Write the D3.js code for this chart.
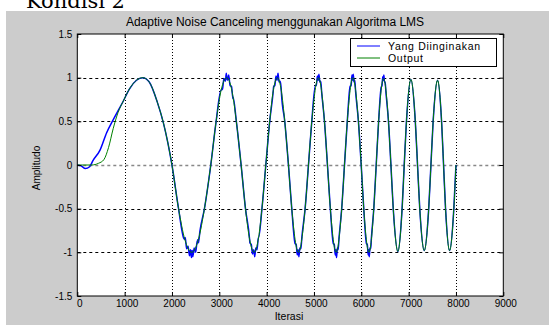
<!DOCTYPE html>
<html>
<head>
<meta charset="utf-8">
<script src="https://cdn.jsdelivr.net/npm/d3@7"></script>
<style>
  body { margin: 0; background: #fff; }
  text { font-family: "Liberation Sans", Arial, sans-serif; fill: #000; }
</style>
</head>
<body>
<svg id="chart" width="549" height="325"></svg>
<script>
// values: [iterasi, amplitudo]
const outputStart = [[0, 0], [300, 0], [450, 0.02], [560, 0.06], [660, 0.2], [760, 0.42], [860, 0.6]]
const desiredStart = [[0, 0], [80, -0.01], [170, -0.04], [260, -0.02], [330, 0.05], [480, 0.17], [620, 0.37], [760, 0.52], [880, 0.64]]

// both signals follow this wave once the filter has converged
const wavePts = [
  [970, 0.73], [1100, 0.87], [1250, 0.97], [1385, 1.0], [1520, 0.95], [1690, 0.72], [1820, 0.48], [2000, 0],
  [2139, -0.5], [2270, -0.85], [2418, -1.0], [2560, -0.85], [2686, -0.5], [2820, 0],
  [2933, 0.5], [3040, 0.86], [3158, 1.0], [3290, 0.78], [3360, 0.5], [3461, 0],
  [3553, -0.5], [3640, -0.85], [3736, -1.0], [3830, -0.83], [3901, -0.5], [3983, 0],
  [4065, 0.5], [4140, 0.85], [4228, 1.0], [4310, 0.85], [4383, 0.5], [4461, 0],
  [4531, -0.5], [4672, -1.0], [4813, -0.5], [4884, 0],
  [4954, 0.5], [5095, 1.0], [5222, 0.5], [5285, 0],
  [5346, -0.5], [5469, -1.0], [5586, -0.5], [5645, 0],
  [5704, 0.5], [5822, 1.0], [5939, 0.5], [5998, 0],
  [6052, -0.5], [6161, -1.0], [6264, -0.5], [6315, 0],
  [6366, 0.5], [6469, 0.99], [6574, 0.5], [6626, 0],
  [6675, -0.5], [6773, -0.99], [6862, -0.5], [6907, 0],
  [6954, 0.5], [7048, 0.98], [7141, 0.5], [7188, 0],
  [7235, -0.5], [7330, -0.98], [7424, -0.5], [7471, 0],
  [7518, 0.5], [7611, 0.97], [7696, 0.5], [7738, 0],
  [7780, -0.5], [7865, -0.98], [7955, -0.5], [8000, 0]
]

// noisy wiggles of the desired signal around its peaks and troughs
const desiredNoise = [
  [2250, -0.84], [2280, -0.83], [2310, -0.96], [2340, -0.93], [2370, -1.04], [2395, -0.97], [2410, -1.06],
  [2430, -0.98], [2440, -1.05], [2470, -0.95], [2500, -1.0], [2530, -0.88], [2560, -0.89], [2590, -0.76],
  [3038, 0.86], [3068, 0.87], [3098, 0.99], [3128, 0.96], [3148, 1.05], [3173, 0.97], [3198, 1.03], [3228, 0.91], [3258, 0.9], [3288, 0.76],
  [3646, -0.89], [3676, -0.91], [3701, -1.02], [3724, -0.97], [3748, -1.05], [3771, -0.95], [3796, -0.97], [3826, -0.83],
  [4148, 0.9], [4173, 0.91], [4198, 1.02], [4218, 0.97], [4240, 1.05], [4263, 0.95], [4288, 0.96], [4313, 0.82],
  [4602, -0.9], [4624, -0.91], [4647, -1.03], [4664, -0.97], [4682, -1.05], [4702, -0.95], [4724, -0.96], [4744, -0.83],
  [5030, 0.91], [5050, 0.91], [5073, 1.02], [5089, 0.97], [5105, 1.04], [5123, 0.95], [5143, 0.96], [5163, 0.83],
  [5409, -0.9], [5429, -0.91], [5449, -1.03], [5464, -0.97], [5477, -1.06], [5494, -0.95], [5511, -0.97], [5529, -0.84],
  [5764, 0.9], [5784, 0.91], [5804, 1.03], [5818, 0.97], [5830, 1.04], [5846, 0.95], [5862, 0.97], [5880, 0.84],
  [6109, -0.9], [6127, -0.91], [6145, -1.03], [6157, -0.97], [6169, -1.05], [6183, -0.95], [6199, -0.96], [6213, -0.84],
  [6420, 0.89], [6437, 0.91], [6454, 1.01], [6465, 0.97], [6476, 1.03], [6490, 0.95], [6504, 0.95], [6518, 0.85]
]

const xTicks = [0, 1000, 2000, 3000, 4000, 5000, 6000, 7000, 8000, 9000]
const yTicks = [-1.5, -1, -0.5, 0, 0.5, 1, 1.5]
const seriesNames = ['Yang Diinginakan', 'Output']
const seriesColors = ['#0000ff', '#008000']

const desired = desiredStart.concat(wavePts, desiredNoise).sort((a, b) => a[0] - b[0])
const output = outputStart.concat(wavePts)

const svg = d3.select('#chart')

// figure background
svg.append('rect').attr('x', 6).attr('y', 11).attr('width', 543).attr('height', 314).attr('fill', '#cccccc')

// bit of the page heading that got cut off above the figure
svg.append('text')
  .attr('x', 26).attr('y', 7.5)
  .style('font-family', '"DejaVu Serif", serif')
  .style('font-size', '21px')
  .text('Kondisi 2')

const plotL = 77.3, plotR = 503.3, plotT = 34, plotB = 296

const x = d3.scaleLinear().domain([0, 9000]).range([plotL, plotR])
const y = d3.scaleLinear().domain([-1.5, 1.5]).range([plotB, plotT])

svg.append('rect')
  .attr('x', plotL).attr('y', plotT)
  .attr('width', plotR - plotL).attr('height', plotB - plotT)
  .attr('fill', '#fff')

// grid
svg.append('g').selectAll('line')
  .data(xTicks.slice(1, -1))
  .enter().append('line')
  .attr('x1', d => Math.round(x(d)) + 0.5).attr('x2', d => Math.round(x(d)) + 0.5)
  .attr('y1', plotT).attr('y2', plotB)
  .attr('stroke', '#000').attr('stroke-dasharray', '1,2')

svg.append('g').selectAll('line')
  .data(yTicks.slice(1, -1))
  .enter().append('line')
  .attr('x1', plotL).attr('x2', plotR)
  .attr('y1', d => Math.round(y(d)) + 0.5).attr('y2', d => Math.round(y(d)) + 0.5)
  .attr('stroke', d => d === 0 ? '#888' : '#000')
  .attr('stroke-width', d => d === 0 ? 1.5 : 1)
  .attr('stroke-dasharray', '3,3')

// signals
const line = d3.line()
  .x(d => x(d[0]))
  .y(d => y(d[1]))
  .curve(d3.curveMonotoneX)

svg.append('path')
  .datum(desired)
  .attr('d', line)
  .attr('fill', 'none')
  .attr('stroke', seriesColors[0])
  .attr('stroke-width', 1.5)

svg.append('path')
  .datum(output)
  .attr('d', line)
  .attr('fill', 'none')
  .attr('stroke', seriesColors[1])
  .attr('stroke-width', 1)

// axes, ticks pointing inward like matlab
const fmt = d => String(d)

const xAxis = svg.append('g')
  .attr('transform', `translate(0,${plotB})`)
  .call(d3.axisBottom(x).tickValues(xTicks).tickFormat(fmt).tickSizeInner(-4).tickSizeOuter(0).tickPadding(4))
svg.append('g')
  .attr('transform', `translate(0,${plotT})`)
  .call(d3.axisTop(x).tickValues(xTicks).tickFormat('').tickSizeInner(-4).tickSizeOuter(0))
svg.append('g')
  .attr('transform', `translate(${plotL},0)`)
  .call(d3.axisLeft(y).tickValues(yTicks).tickFormat(fmt).tickSizeInner(-4).tickSizeOuter(0).tickPadding(5))
svg.append('g')
  .attr('transform', `translate(${plotR},0)`)
  .call(d3.axisRight(y).tickValues(yTicks).tickFormat('').tickSizeInner(-4).tickSizeOuter(0))

svg.selectAll('.domain').remove()
svg.selectAll('.tick line').attr('stroke', '#000')
svg.selectAll('.tick text').style('font-size', '10px').attr('fill', '#000')
xAxis.selectAll('.tick text').attr('dx', 2)

svg.append('rect')
  .attr('x', plotL).attr('y', plotT)
  .attr('width', plotR - plotL).attr('height', plotB - plotT)
  .attr('fill', 'none').attr('stroke', '#000')

// labels
svg.append('text')
  .attr('x', 275).attr('y', 26)
  .attr('text-anchor', 'middle')
  .style('font-size', '12px')
  .text('Adaptive Noise Canceling menggunakan Algoritma LMS')

svg.append('text')
  .attr('x', 289).attr('y', 320)
  .attr('text-anchor', 'middle')
  .style('font-size', '10.5px')
  .text('Iterasi')

svg.append('text')
  .attr('transform', 'translate(40,168) rotate(-90)')
  .attr('text-anchor', 'middle')
  .style('font-size', '10px')
  .text('Amplitudo')

// legend
const legend = svg.append('g')
legend.append('rect')
  .attr('x', 350.5).attr('y', 38.5).attr('width', 146).attr('height', 28)
  .attr('fill', '#fff').attr('stroke', '#000')

seriesNames.forEach((name, i) => {
  const ly = 46 + i * 12
  legend.append('line')
    .attr('x1', 357).attr('x2', 380).attr('y1', ly).attr('y2', ly)
    .attr('stroke', seriesColors[i])
  legend.append('text')
    .attr('x', 388).attr('y', ly + 3.5)
    .style('font-size', '10.5px')
    .style('letter-spacing', '0.7px')
    .text(name)
})
</script>
</body>
</html>
